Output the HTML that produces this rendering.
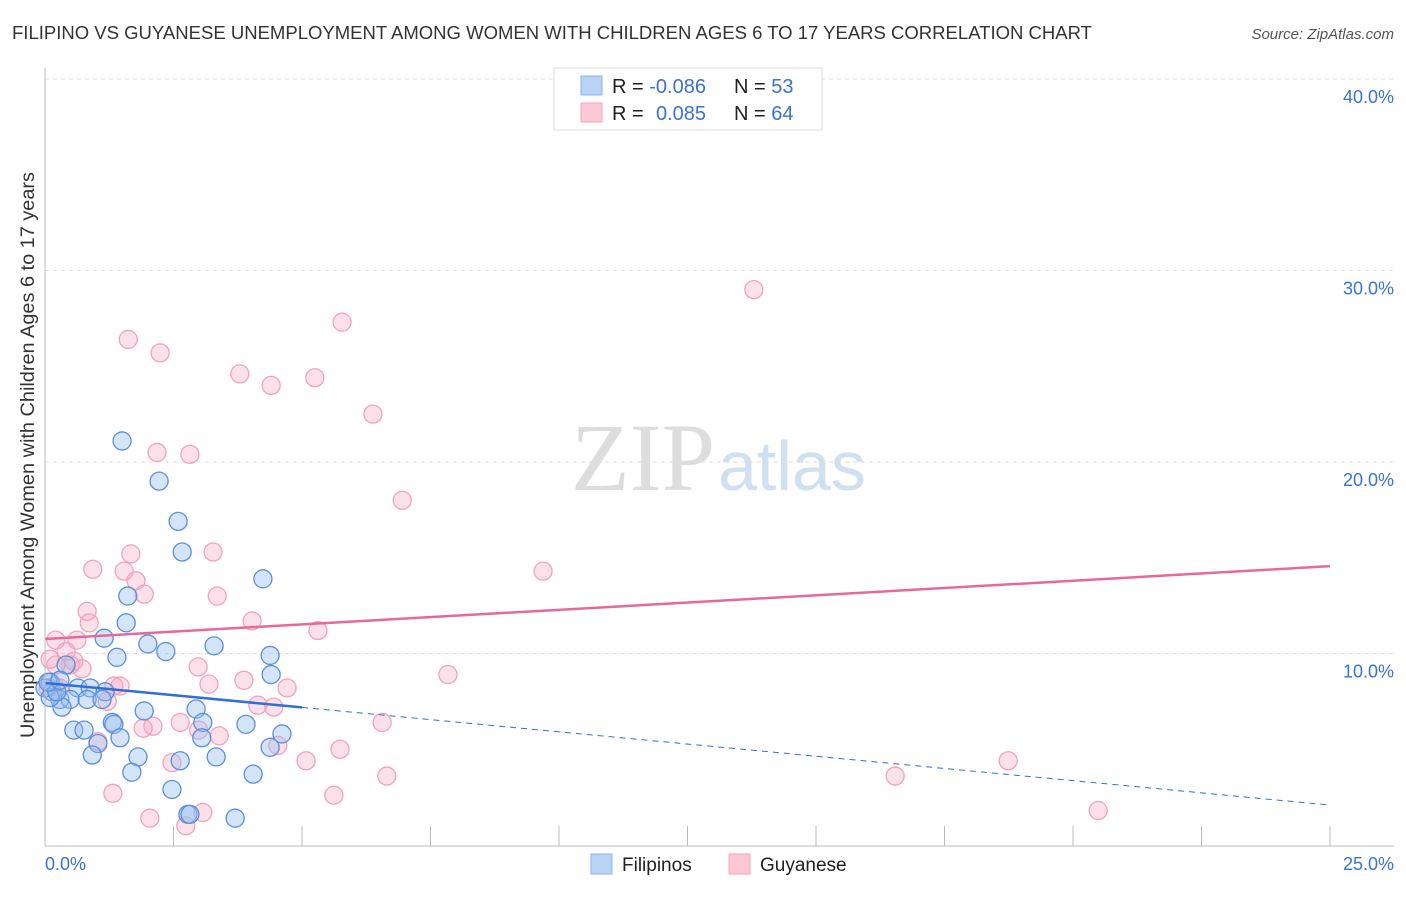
<!DOCTYPE html>
<html><head><meta charset="utf-8"><style>
body{margin:0;background:#fff;font-family:"Liberation Sans",sans-serif;}
</style></head><body>
<svg id="c" width="1406" height="892" xmlns="http://www.w3.org/2000/svg">
<text x="12" y="39" font-size="18" fill="#333" textLength="1080" lengthAdjust="spacingAndGlyphs">FILIPINO VS GUYANESE UNEMPLOYMENT AMONG WOMEN WITH CHILDREN AGES 6 TO 17 YEARS CORRELATION CHART</text>
<text x="1394" y="39" font-size="15" fill="#555" text-anchor="end" font-style="italic">Source: ZipAtlas.com</text>
<text x="34" y="455" font-size="19" fill="#333" text-anchor="middle" textLength="566" lengthAdjust="spacingAndGlyphs" transform="rotate(-90 34 455)">Unemployment Among Women with Children Ages 6 to 17 years</text>
<text x="715" y="490" font-size="96" fill="#ddd" text-anchor="end" font-family="Liberation Serif,serif">ZIP</text>
<text x="718" y="490" font-size="70" fill="#cfe0f3">atlas</text>
<g id="grid"></g><g id="pts"></g><g id="lines"></g>
<line x1="45" y1="68" x2="45" y2="846" stroke="#bbb"/>
<line x1="45" y1="846" x2="1394" y2="846" stroke="#bbb"/>
<text x="45" y="870" font-size="18" fill="#3b73d1">0.0%</text>
<text x="1394" y="870" font-size="18" fill="#3b73d1" text-anchor="end">25.0%</text>
<g>
<rect x="554" y="68" width="268" height="62" fill="#fff" stroke="#ddd"/>
<rect x="581" y="76" width="21" height="19" fill="#b8d3f5" stroke="#8ab3e8"/>
<rect x="581" y="103" width="21" height="19" fill="#fcc8d6" stroke="#f3a6bc"/>
<text x="612" y="93" font-size="20" fill="#222">R = <tspan fill="#3b73d1">-0.086</tspan></text>
<text x="734" y="93" font-size="20" fill="#222">N = <tspan fill="#3b73d1">53</tspan></text>
<text x="612" y="120" font-size="20" fill="#222">R = <tspan fill="#3b73d1" x="656">0.085</tspan></text>
<text x="734" y="120" font-size="20" fill="#222">N = <tspan fill="#3b73d1">64</tspan></text>
</g>
<g>
<rect x="591" y="854" width="21" height="20" fill="#b8d3f5" stroke="#8ab3e8"/>
<text x="622" y="871" font-size="19" fill="#222">Filipinos</text>
<rect x="729" y="854" width="21" height="20" fill="#fcc8d6" stroke="#f3a6bc"/>
<text x="760" y="871" font-size="19" fill="#222">Guyanese</text>
</g>
</svg>
<script>
const yTicks=[10,20,30,40];
const yTickLabels=["10.0%","20.0%","30.0%","40.0%"];
const xTicks=[2.5,5,7.5,10,12.5,15,17.5,20,22.5,25];
const filTrend=[8.46,-0.255];
const guyTrend=[10.76,0.152];
const filX=[1.5,2.22,2.59,2.67,4.24,1.61,1.58,1.15,2.0,2.35,3.29,1.4,4.38,4.4,0.41,0.1,0.64,0.88,1.17,0.14,0.29,0.49,0.82,1.11,0.33,2.94,1.93,3.07,1.31,1.34,3.91,0.56,0.76,1.03,1.46,4.61,3.05,4.38,1.81,0.92,2.63,3.33,1.69,4.05,2.47,2.78,2.82,3.7,0.0,0.1,0.23,0.06,0.29];
const filY=[21.1,19.0,16.9,15.3,13.9,13.0,11.6,10.8,10.5,10.1,10.4,9.8,9.9,8.9,9.4,8.5,8.2,8.2,8.0,8.0,7.6,7.6,7.6,7.6,7.2,7.1,7.0,6.4,6.4,6.3,6.3,6.0,6.0,5.3,5.6,5.8,5.6,5.1,4.6,4.7,4.4,4.6,3.8,3.7,2.9,1.6,1.6,1.4,8.2,7.7,8.0,8.5,8.6];
const guyX=[13.79,5.78,1.62,2.24,3.79,5.25,4.4,6.38,2.18,2.82,6.95,3.27,1.67,9.69,0.93,1.54,1.77,1.93,3.35,0.82,4.03,0.86,5.31,0.21,0.62,0.21,0.56,0.72,2.98,7.84,3.87,3.19,4.71,1.34,1.46,0.18,0.29,0.06,1.21,4.45,4.14,2.63,2.1,1.91,6.56,2.99,3.39,1.03,4.53,5.74,5.08,2.47,18.74,6.65,16.54,1.32,5.62,20.49,2.04,3.07,2.74,0.49,0.41,0.1];
const guyY=[29.0,27.3,26.4,25.7,24.6,24.4,24.0,22.5,20.5,20.4,18.0,15.3,15.2,14.3,14.4,14.3,13.8,13.1,13.0,12.2,11.7,11.6,11.2,10.7,10.7,9.4,9.6,9.2,9.3,8.9,8.6,8.4,8.2,8.3,8.3,8.3,8.2,8.2,7.5,7.2,7.3,6.4,6.2,6.1,6.4,6.0,5.7,5.4,5.2,5.0,4.4,4.3,4.4,3.6,3.6,2.7,2.6,1.8,1.4,1.7,1.0,9.4,10.1,9.7];
const x=v=>45+v*51.4, y=v=>845-v*19.15;
const NS="http://www.w3.org/2000/svg";
function mk(t,a,p){const e=document.createElementNS(NS,t);for(const k in a)e.setAttribute(k,a[k]);p.appendChild(e);return e;}
const grid=document.getElementById('grid');
yTicks.forEach((v,i)=>{
 const l=mk('line',{x1:45,x2:1394,y1:y(v),y2:y(v),stroke:'#ddd','stroke-dasharray':'4,4'},grid);
 
 
 const t=mk('text',{x:1394,y:y(v)+24,'font-size':18,fill:'#3b73d1','text-anchor':'end'},grid);
 t.textContent=yTickLabels[i];
 
 
});
xTicks.forEach(v=>{
 const l=mk('line',{x1:x(v),x2:x(v),y1:826,y2:846,stroke:'#bbb'},grid);
 
 
});
const pts=document.getElementById('pts');
guyX.forEach((v,i)=>{
 const c=mk('circle',{cx:x(v),cy:y(guyY[i]),r:9,fill:'rgba(248,170,195,0.35)',stroke:'#f2a2ba','stroke-width':1.3},pts);
 
 
});
filX.forEach((v,i)=>{
 const c=mk('circle',{cx:x(v),cy:y(filY[i]),r:9,fill:'rgba(150,190,240,0.4)',stroke:'#5b8fdc','stroke-width':1.3},pts);
 
 
});
const lines=document.getElementById('lines');
const [fa,fb]=filTrend,[ga,gb]=guyTrend;
let l=mk('line',{x1:x(0),y1:y(ga),x2:x(25),y2:y(ga+gb*25),stroke:'#e8689a','stroke-width':2.5},lines);


l=mk('line',{x1:x(0),y1:y(fa),x2:x(5),y2:y(fa+fb*5),stroke:'#2f6fd6','stroke-width':2.5},lines);


l=mk('line',{x1:x(5),y1:y(fa+fb*5),x2:x(25),y2:y(fa+fb*25),stroke:'#2f6fd6','stroke-width':1,'stroke-dasharray':'6,5'},lines);


</script>
</body></html>
